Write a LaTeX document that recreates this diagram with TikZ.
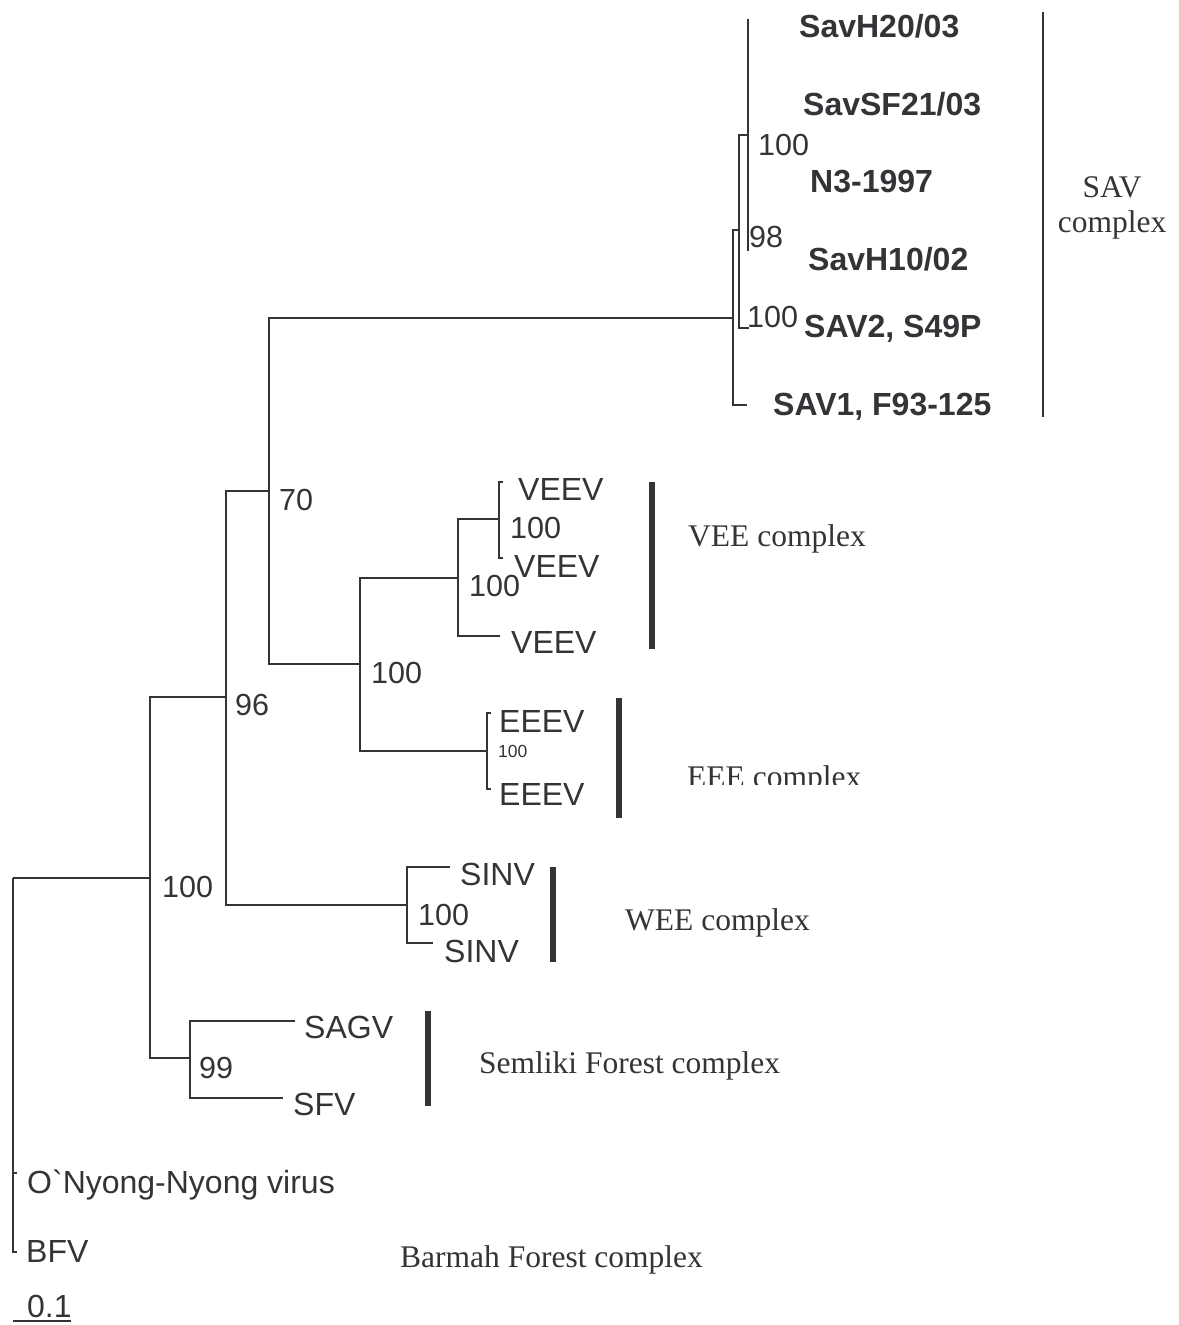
\documentclass[tikz,border=0pt]{standalone}
\usepackage{fontspec}
\newfontfamily\labfont{Liberation Sans}
\newfontfamily\cxfont{Liberation Serif}
\definecolor{ink}{RGB}{52,52,56}

\tikzset{
  branch/.style={draw=ink, line width=1.5pt},
  cbar/.style={draw=ink, line width=6pt},
  tip/.style={anchor=base west, inner sep=0pt, text=ink, font=\labfont\fontsize{32}{38}\selectfont},
  savtip/.style={tip, font=\labfont\bfseries\fontsize{32}{38}\selectfont},
  boot/.style={anchor=base west, inner sep=0pt, text=ink, font=\labfont\fontsize{30.5}{36}\selectfont},
  cplx/.style={anchor=base west, inner sep=0pt, text=ink, font=\cxfont\fontsize{31.5}{35}\selectfont},
}

\begin{document}
\begin{tikzpicture}[x=1pt, y=-1pt]
  \useasboundingbox (0,0) rectangle (1178,1325);

  % internal nodes
  \coordinate (root) at (13,878);
  \coordinate (nA) at (150,878);
  \coordinate (n99) at (190,1058);
  \coordinate (n96) at (226,697);
  \coordinate (nwee) at (407,905);
  \coordinate (n70) at (269,491);
  \coordinate (nve) at (360,664);
  \coordinate (nvee) at (458,578);
  \coordinate (nv2) at (499,519);
  \coordinate (neee) at (487,751);
  \coordinate (nsav) at (733,318);
  \coordinate (nsav2) at (739,230);
  \coordinate (nsav3) at (748,135);

  % tips
  \coordinate (t-h20) at (749,20);
  \coordinate (t-sf21) at (749,97);
  \coordinate (t-n3) at (749,173);
  \coordinate (t-h10) at (749,250);
  \coordinate (t-sav2) at (749,328);
  \coordinate (t-sav1) at (747,405);
  \coordinate (t-veev1) at (503,482);
  \coordinate (t-veev2) at (503,558);
  \coordinate (t-veev3) at (500,636);
  \coordinate (t-eeev1) at (491,713);
  \coordinate (t-eeev2) at (491,789);
  \coordinate (t-sinv1) at (450,867);
  \coordinate (t-sinv2) at (433,943);
  \coordinate (t-sagv) at (295,1021);
  \coordinate (t-sfv) at (283,1098);
  \coordinate (t-onn) at (17,1173);
  \coordinate (t-bfv) at (17,1252);

  % branches
  \draw[branch] (root) |- (nA);
  \draw[branch] (root) |- (t-onn);
  \draw[branch] (root) |- (t-bfv);
  \draw[branch] (nA) |- (n96);
  \draw[branch] (nA) |- (n99);
  \draw[branch] (n99) |- (t-sagv);
  \draw[branch] (n99) |- (t-sfv);
  \draw[branch] (n96) |- (n70);
  \draw[branch] (n96) |- (nwee);
  \draw[branch] (nwee) |- (t-sinv1);
  \draw[branch] (nwee) |- (t-sinv2);
  \draw[branch] (n70) |- (nsav);
  \draw[branch] (n70) |- (nve);
  \draw[branch] (nve) |- (nvee);
  \draw[branch] (nve) |- (neee);
  \draw[branch] (nvee) |- (nv2);
  \draw[branch] (nvee) |- (t-veev3);
  \draw[branch] (nv2) |- (t-veev1);
  \draw[branch] (nv2) |- (t-veev2);
  \draw[branch] (neee) |- (t-eeev1);
  \draw[branch] (neee) |- (t-eeev2);
  \draw[branch] (nsav) |- (nsav2);
  \draw[branch] (nsav) |- (t-sav1);
  \draw[branch] (nsav2) |- (nsav3);
  \draw[branch] (nsav2) |- (t-sav2);
  \draw[branch] (nsav3) |- (t-h20);
  \draw[branch] (nsav3) |- (t-sf21);
  \draw[branch] (nsav3) |- (t-n3);
  \draw[branch] (nsav3) |- (t-h10);

  % taxon labels
  \node[savtip] (savh20) at (799,37) {SavH20/03};
  \node[savtip] (savsf21) at (803,115) {SavSF21/03};
  \node[savtip] (n3) at (810,192) {N3-1997};
  \node[savtip] (savh10) at (808,270) {SavH10/02};
  \node[savtip] (sav2) at (804,337) {SAV2, S49P};
  \node[savtip] (sav1) at (773,415) {SAV1, F93-125};
  \node[tip] (veev1) at (518,500) {VEEV};
  \node[tip] (veev2) at (514,577) {VEEV};
  \node[tip] (veev3) at (511,653) {VEEV};
  \node[tip] (eeev1) at (499,732) {EEEV};
  \node[tip] (eeev2) at (499,805) {EEEV};
  \node[tip] (sinv1) at (460,885) {SINV};
  \node[tip] (sinv2) at (444,962) {SINV};
  \node[tip] (sagv) at (304,1038) {SAGV};
  \node[tip] (sfv) at (293,1115) {SFV};
  \node[tip] (onn) at (27,1193) {O`Nyong-Nyong virus};
  \node[tip] (bfv) at (26,1262) {BFV};

  % bootstrap values
  \node[boot] (b-sav3) at (758,155) {100};
  \node[boot] (b-sav2) at (749,247) {98};
  \node[boot] (b-sav) at (747,327) {100};
  \node[boot] (b-70) at (279,510) {70};
  \node[boot] (b-v2) at (510,538) {100};
  \node[boot] (b-vee) at (469,596) {100};
  \node[boot] (b-ve) at (371,683) {100};
  \node[boot, font=\labfont\fontsize{17.5}{20}\selectfont] (b-eee) at (498,757) {100};
  \node[boot] (b-96) at (235,715) {96};
  \node[boot] (b-wee) at (418,925) {100};
  \node[boot] (b-A) at (162,897) {100};
  \node[boot] (b-99) at (199,1078) {99};

  % complex bars
  \draw[branch] (1043,12) coordinate (sav-top) -- (1043,417) coordinate (sav-bot);
  \draw[cbar] (652,482) coordinate (vee-top) -- (652,649) coordinate (vee-bot);
  \draw[cbar] (619,698) coordinate (eee-top) -- (619,818) coordinate (eee-bot);
  \draw[cbar] (553,867) coordinate (wee-top) -- (553,962) coordinate (wee-bot);
  \draw[cbar] (428,1011) coordinate (sfc-top) -- (428,1106) coordinate (sfc-bot);

  % complex names
  \node[cplx, anchor=center, align=center] (c-sav) at (1112,208) {SAV\\complex};
  \node[cplx] (c-vee) at (688,546) {VEE complex};
  \begin{scope}
    \clip (600,740) rectangle (900,784);
    \node[cplx] (c-eee) at (687,787) {EEE complex};
  \end{scope}
  \node[cplx] (c-wee) at (625,930) {WEE complex};
  \node[cplx] (c-sfc) at (479,1073) {Semliki Forest complex};
  \node[cplx] (c-bfc) at (400,1267) {Barmah Forest complex};

  % scale
  \node[tip] (scale) at (27,1317) {0.1};
  \coordinate (sc0) at (13,1321);
  \coordinate (sc1) at (71,1321);
  \draw[branch] (sc0) -- (sc1);
\end{tikzpicture}
\end{document}
